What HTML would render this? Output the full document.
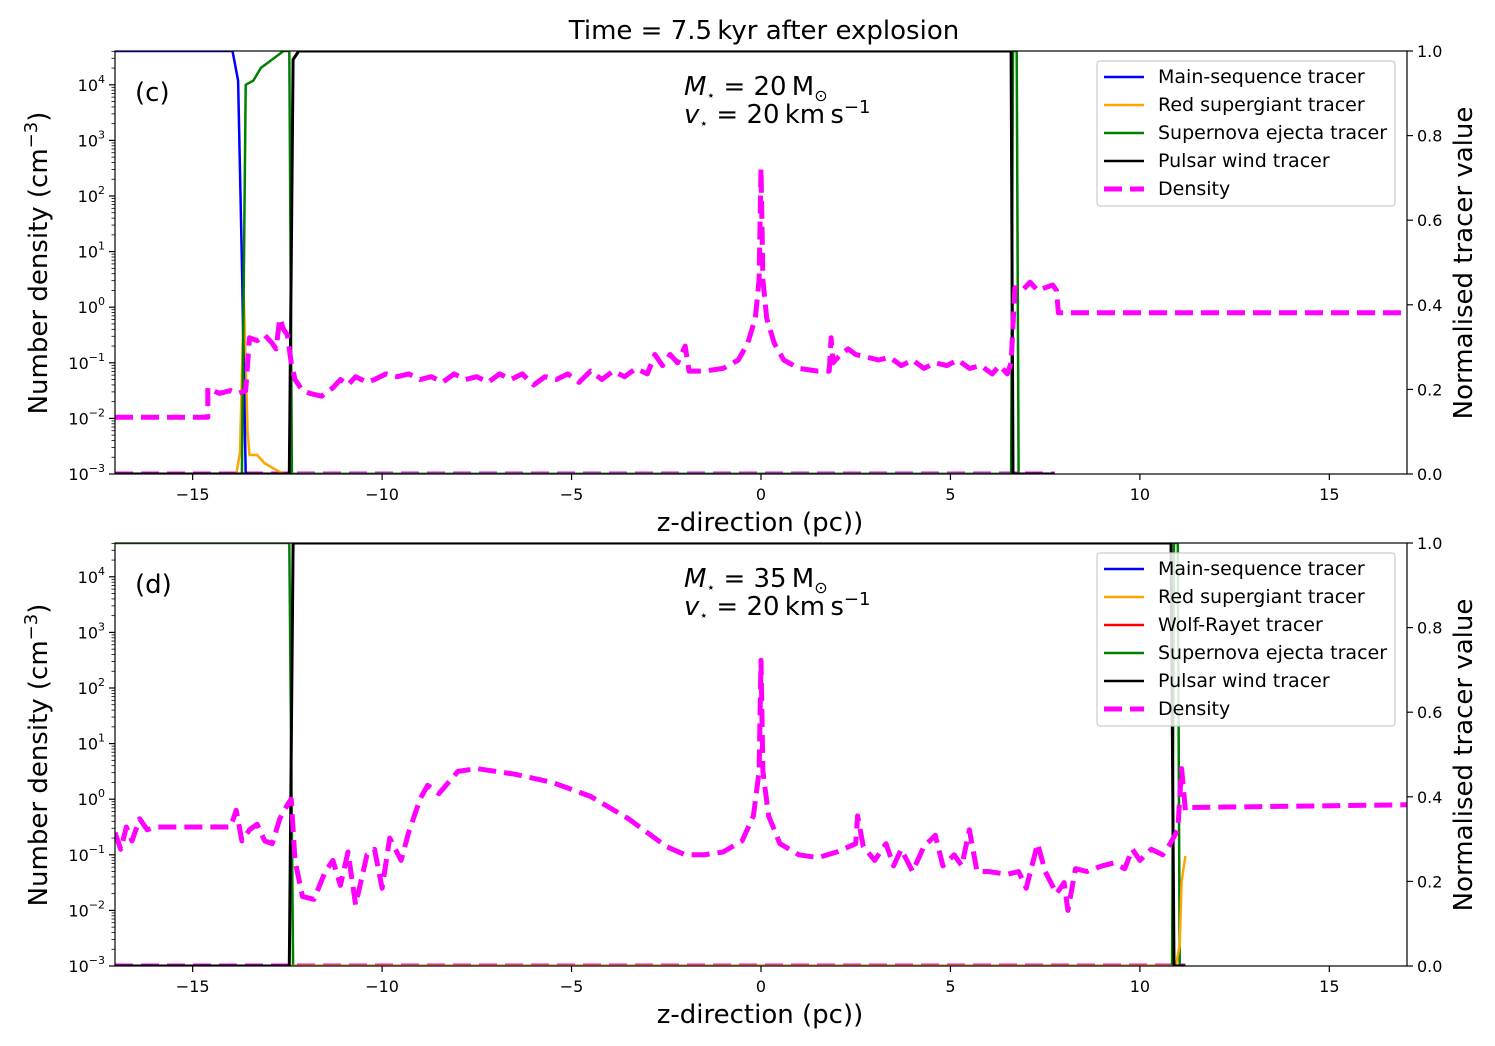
<!DOCTYPE html>
<html><head><meta charset="utf-8">
<style>
body{margin:0;background:#fff;}
svg{display:block;font-family:"DejaVu Sans","Liberation Sans",sans-serif;}
</style></head>
<body>
<svg id="fig" width="1495" height="1046" viewBox="0 0 1495 1046"></svg>
<script>
// ---------- data ----------
const xTicks = [-15,-10,-5,0,5,10,15];
const yTickExp = [-3,-2,-1,0,1,2,3,4];
const rTicks = [0.0,0.2,0.4,0.6,0.8,1.0];

// panel (c): density z (pc) and log10 n
const zC = [-17.05,-14.6,-14.6,-14.3,-14.0,-13.8,-13.6,-13.5,-13.3,-13.1,-12.9,-12.8,-12.7,-12.6,-12.5,-12.4,-12.3,-12.1,-11.9,-11.6,-11.3,-11.1,-10.9,-10.7,-10.4,-10.2,-9.9,-9.6,-9.3,-9.0,-8.7,-8.4,-8.1,-7.8,-7.5,-7.2,-6.9,-6.6,-6.3,-6.0,-5.7,-5.4,-5.1,-4.8,-4.5,-4.2,-3.9,-3.6,-3.3,-3.0,-2.8,-2.6,-2.4,-2.2,-2.0,-1.9,-1.5,-1.0,-0.6,-0.35,-0.15,-0.05,0,0.05,0.15,0.35,0.6,1.0,1.5,1.8,1.85,1.9,2.1,2.3,2.5,2.8,3.1,3.4,3.7,4.0,4.3,4.6,4.9,5.2,5.5,5.8,6.1,6.3,6.5,6.6,6.7,6.9,7.1,7.3,7.5,7.7,7.8,7.85,17.05];
const nC = [-1.98,-1.98,-1.45,-1.55,-1.5,-1.55,-1.5,-0.55,-0.6,-0.5,-0.65,-0.75,-0.2,-0.4,-0.5,-1.0,-1.3,-1.5,-1.55,-1.6,-1.45,-1.3,-1.4,-1.25,-1.35,-1.3,-1.2,-1.25,-1.2,-1.3,-1.25,-1.35,-1.2,-1.3,-1.25,-1.35,-1.2,-1.3,-1.2,-1.4,-1.25,-1.3,-1.2,-1.35,-1.15,-1.3,-1.15,-1.25,-1.1,-1.2,-0.85,-1.05,-0.85,-1.0,-0.7,-1.15,-1.15,-1.1,-0.95,-0.65,-0.2,0.5,2.5,0.5,-0.2,-0.65,-0.95,-1.1,-1.15,-1.15,-0.55,-1.0,-0.85,-0.75,-0.85,-0.9,-0.95,-0.9,-1.05,-0.95,-1.1,-1.0,-1.05,-0.95,-1.1,-1.05,-1.2,-1.05,-1.2,-1.0,0.35,0.3,0.45,0.3,0.35,0.4,0.3,-0.1,-0.1];

// panel (c) tracers (normalised 0..1)
const zMsC = [-17.05,-13.95,-13.8,-13.7,-13.6,7.75];
const vMsC = [1,1,0.93,0.5,0,0];
const zRsgC = [-17.05,-13.85,-13.75,-13.65,-13.55,-13.5,-13.3,-13.1,-12.8,-12.6,7.75];
const vRsgC = [0,0,0.05,0.42,0.1,0.045,0.045,0.025,0.01,0,0];
const zSnC = [-17.05,-13.7,-13.6,-13.4,-13.2,-12.9,-12.6,-12.45,-12.38,6.6,6.65,6.75,6.8,7.75];
const vSnC = [0,0,0.92,0.93,0.96,0.98,1,1,0,0,1,1,0,0];
const zPwC = [-17.05,-12.45,-12.35,-12.2,6.6,6.65,7.75];
const vPwC = [0,0,0.98,1,1,0,0];

// panel (d): density
const zD = [-17.05,-16.9,-16.75,-16.6,-16.4,-16.2,-16.0,-15.5,-15.0,-14.5,-14.0,-13.85,-13.7,-13.5,-13.3,-13.1,-12.9,-12.7,-12.5,-12.4,-12.3,-12.1,-11.8,-11.5,-11.3,-11.1,-10.9,-10.7,-10.4,-10.2,-10.0,-9.8,-9.5,-9.3,-9.0,-8.8,-8.5,-8.0,-7.5,-6.5,-5.5,-4.5,-3.5,-2.5,-2.0,-1.5,-1.0,-0.5,-0.2,-0.05,0,0.05,0.2,0.5,1.0,1.5,2.0,2.5,2.55,2.7,3.0,3.3,3.5,3.7,4.0,4.3,4.6,4.8,5.1,5.3,5.5,5.7,6.0,6.5,6.8,7.0,7.3,7.5,7.8,8.0,8.1,8.3,8.6,9.0,9.3,9.6,9.8,10.0,10.3,10.6,10.8,11.0,11.1,11.2,11.3,17.05];
const nD = [-0.6,-0.9,-0.5,-0.75,-0.35,-0.55,-0.5,-0.5,-0.5,-0.5,-0.5,-0.2,-0.75,-0.55,-0.45,-0.75,-0.8,-0.35,-0.1,0.0,-1.1,-1.75,-1.8,-1.3,-1.1,-1.55,-0.95,-1.9,-1.0,-0.9,-1.6,-0.7,-1.1,-0.6,0.0,0.25,0.1,0.5,0.55,0.45,0.3,0.05,-0.35,-0.85,-1.0,-1.0,-0.95,-0.75,-0.3,0.5,2.5,0.5,-0.3,-0.8,-1.0,-1.05,-0.95,-0.8,-0.3,-0.85,-1.1,-0.8,-1.2,-0.9,-1.3,-0.85,-0.65,-1.2,-1.0,-1.2,-0.55,-1.3,-1.3,-1.35,-1.3,-1.6,-0.8,-1.3,-1.7,-1.5,-2.0,-1.25,-1.3,-1.2,-1.15,-1.25,-0.9,-1.1,-0.9,-1.0,-0.8,-0.55,0.55,-0.2,-0.15,-0.1];

// panel (d) tracers
const zMsD = [-17.05,11.2];
const vMsD = [0,0];
const zRsgD = [-17.05,10.95,11.05,11.1,11.2];
const vRsgD = [0,0,0.05,0.2,0.26];
const zWrD = [-17.05,11.2];
const vWrD = [0,0];
const zSnD = [-17.05,-12.45,-12.35,10.85,10.9,11.0,11.05,11.2];
const vSnD = [1,1,0,0,1,1,0,0];
const zPwD = [-17.05,-12.45,-12.35,10.82,10.9,11.2];
const vPwD = [0,0,1,1,0,0];

// ---------- drawing ----------
const NS="http://www.w3.org/2000/svg";
const svg=document.getElementById('fig');
function el(tag,attrs,parent,text){const e=document.createElementNS(NS,tag);for(const k in attrs)e.setAttribute(k,attrs[k]);if(text!==undefined)e.textContent=text;(parent||svg).appendChild(e);return e;}
const X0=115,X1=1407,ZMIN=-17.05,ZMAX=17.05;
const xs=z=>X0+(z-ZMIN)/(ZMAX-ZMIN)*(X1-X0);
const DEC=55.6;

function panel(top,label,mass,dz,dn,tracers,legendItems,bottomDashEnd){
  const bot=top+423;
  const ly=v=>bot-(v+3)*DEC;
  const ry=v=>bot-v*423;
  const g=el('g',{},svg);
  
  
  const clipId='clip'+label;
  const cp=el('clipPath',{id:clipId},g);el('rect',{x:X0,y:top,width:X1-X0,height:423},cp);
  const plot=el('g',{'clip-path':'url(#'+clipId+')'},g);
  const fl=el('line',{x1:X0,x2:xs(bottomDashEnd),y1:bot-1,y2:bot-1,stroke:'#ff00ff','stroke-width':3,'stroke-dasharray':'18 8'},plot);
  
  
  tracers.forEach(t=>{
    const p=el('polyline',{points:t.z.map((z,i)=>xs(z).toFixed(1)+','+ry(t.v[i]).toFixed(1)).join(' '),fill:'none',stroke:t.c,'stroke-width':t.w||2.5,'stroke-linejoin':'round'},plot);
    
    
  });
  const dp=el('polyline',{points:dz.map((z,i)=>xs(z).toFixed(1)+','+ly(dn[i]).toFixed(1)).join(' '),fill:'none',stroke:'#ff00ff','stroke-width':5,'stroke-dasharray':'18 8','stroke-linejoin':'round'},plot);
  
  
  el('rect',{x:X0,y:top,width:X1-X0,height:423,fill:'none',stroke:'#000','stroke-width':1.2},g);
  xTicks.forEach(t=>{const x=xs(t);el('line',{x1:x,x2:x,y1:bot,y2:bot+6,stroke:'#000','stroke-width':1.2},g);
    const tl=el('text',{x:x,y:bot+26,'font-size':16,'text-anchor':'middle'},g,(t<0?'\u2212'+(-t):''+t));
    
    });
  yTickExp.forEach(e=>{const y=ly(e);el('line',{x1:X0-6,x2:X0,y1:y,y2:y,stroke:'#000','stroke-width':1.2},g);
    const t=el('text',{x:X0-10,y:y+6,'font-size':16,'text-anchor':'end'},g);
    
    
    el('tspan',{},t,'10');el('tspan',{dy:-8,'font-size':11},t,(e<0?'\u2212'+(-e):''+e));
    for(let m=2;m<10;m++){const yy=ly(e+Math.log10(m));if(yy>=top)el('line',{x1:X0-3.5,x2:X0,y1:yy,y2:yy,stroke:'#000','stroke-width':0.8},g);}
  });
  rTicks.forEach(v=>{const y=ry(v);el('line',{x1:X1,x2:X1+6,y1:y,y2:y,stroke:'#000','stroke-width':1.2},g);
    const t=el('text',{x:X1+10,y:y+6,'font-size':16},g,v.toFixed(1));
    
    });
  const xl=el('text',{x:760,y:bot+57,'font-size':26,'text-anchor':'middle'},g,'z-direction (pc))');
  
  
  const yl=el('text',{transform:'translate(47,'+(top+212)+') rotate(-90)','font-size':26,'text-anchor':'middle'},g);
  
  
  el('tspan',{},yl,'Number density (cm');el('tspan',{dy:-10,'font-size':18},yl,'\u22123');el('tspan',{dy:10},yl,')');
  const rl=el('text',{transform:'translate(1472,'+(top+212)+') rotate(-90)','font-size':26,'text-anchor':'middle'},g,'Normalised tracer value');
  
  
  const pl=el('text',{x:135,y:top+50,'font-size':26},g,'('+label+')');
  
  
  const a=el('text',{x:684,y:top+44,'font-size':26},g);
  
  
  el('tspan',{'font-style':'italic'},a,'M');el('tspan',{'font-size':14,dy:5},a,'\u22c6');el('tspan',{dy:-5},a,' = '+mass+'\u2009M');el('tspan',{'font-size':16,dy:6},a,'\u2299');
  const b=el('text',{x:684,y:top+72,'font-size':26},g);
  
  
  el('tspan',{'font-style':'italic'},b,'v');el('tspan',{'font-size':14,dy:5},b,'\u22c6');el('tspan',{dy:-5},b,' = 20\u2009km\u2009s');el('tspan',{dy:-10,'font-size':18},b,'\u22121');
  const lh=28,lt=top+10,lhgt=legendItems.length*lh+5;
  const lg=el('g',{},g);
  
  
  el('rect',{x:1097,y:lt,width:298,height:lhgt,rx:3,fill:'#fff','fill-opacity':0.85,stroke:'#ccc','stroke-width':1.2},lg);
  legendItems.forEach((it,i)=>{const y=lt+16+i*lh;
    const ent=el('g',{},lg);
    
    
    el('line',{x1:1104,x2:1144,y1:y,y2:y,stroke:it.c,'stroke-width':it.d?5:2.5,'stroke-dasharray':it.d?'18 8':'none'},ent);
    el('text',{x:1158,y:y+6,'font-size':19},ent,it.n);});
}
const ttl=el('text',{x:764,y:39,'font-size':26,'text-anchor':'middle'},svg,'Time = 7.5\u2009kyr after explosion');



panel(51,'c','20',zC,nC,[
 {z:zRsgC,v:vRsgC,c:'#ffa500',n:'red-supergiant-tracer'},
 {z:zMsC,v:vMsC,c:'#0000ff',n:'main-sequence-tracer'},
 {z:zSnC,v:vSnC,c:'#008000',n:'supernova-ejecta-tracer'},
 {z:zPwC,v:vPwC,c:'#000000',n:'pulsar-wind-tracer',w:3}
],[{n:'Main-sequence tracer',c:'#0000ff'},{n:'Red supergiant tracer',c:'#ffa500'},{n:'Supernova ejecta tracer',c:'#008000'},{n:'Pulsar wind tracer',c:'#000'},{n:'Density',c:'#ff00ff',d:1}],7.75);

panel(543,'d','35',zD,nD,[
 {z:zMsD,v:vMsD,c:'#0000ff',n:'main-sequence-tracer'},
 {z:zWrD,v:vWrD,c:'#ff0000',n:'wolf-rayet-tracer'},
 {z:zSnD,v:vSnD,c:'#008000',n:'supernova-ejecta-tracer'},
 {z:zRsgD,v:vRsgD,c:'#ffa500',n:'red-supergiant-tracer'},
 {z:zPwD,v:vPwD,c:'#000000',n:'pulsar-wind-tracer',w:3}
],[{n:'Main-sequence tracer',c:'#0000ff'},{n:'Red supergiant tracer',c:'#ffa500'},{n:'Wolf-Rayet tracer',c:'#ff0000'},{n:'Supernova ejecta tracer',c:'#008000'},{n:'Pulsar wind tracer',c:'#000'},{n:'Density',c:'#ff00ff',d:1}],11.2);
</script>
</body></html>
